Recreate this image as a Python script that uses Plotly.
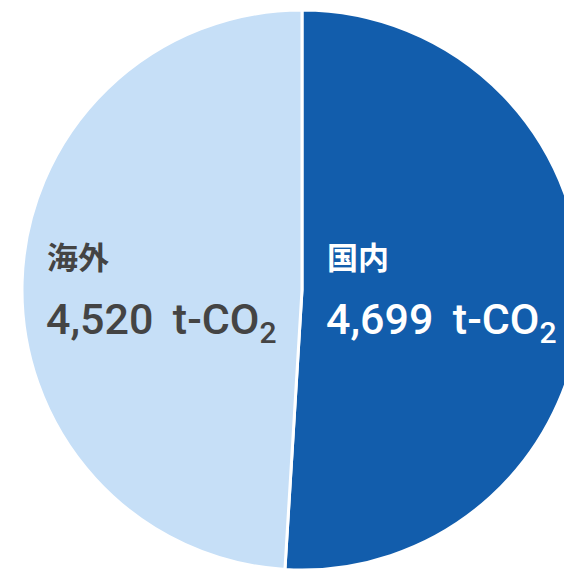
import plotly.graph_objects as go

labels = ["国内", "海外"]
values = [4699, 4520]
value_text = ["4,699", "4,520"]
colors = ["#125DAC", "#C6DFF7"]
text_colors = ["#FFFFFF", "#444444"]

W, H = 582, 570

fig = go.Figure(go.Pie(
    labels=labels,
    values=values,
    sort=False,
    direction="clockwise",
    rotation=0,
    textinfo="none",
    hoverinfo="label+value",
    marker=dict(colors=colors, line=dict(color="#FFFFFF", width=3)),
    domain=dict(x=[22 / W, 1], y=[0, 560 / H]),
    showlegend=False,
))

label_x = [327, 47]
for i in range(2):
    fig.add_annotation(
        x=(label_x[i] - 2) / W, y=1 - 255 / H, xref="paper", yref="paper",
        xanchor="left", yanchor="middle", showarrow=False,
        text=labels[i],
        font=dict(family="'Noto Sans CJK JP', sans-serif", size=31, color=text_colors[i], weight="bold"),
    )
    fig.add_annotation(
        x=(label_x[i] - 3) / W, y=1 - 322 / H, xref="paper", yref="paper",
        xanchor="left", yanchor="middle", showarrow=False,
        text=f"{value_text[i]}\u2009 t-CO<sub>2</sub>",
        font=dict(family="Roboto, sans-serif", size=43, color=text_colors[i], weight=500),
    )

fig.update_layout(
    width=W, height=H,
    margin=dict(l=0, r=0, t=0, b=0),
    paper_bgcolor="#FFFFFF",
    plot_bgcolor="#FFFFFF",
)

fig.write_html(
    "out.html",
    config={"displayModeBar": False},
    post_script="document.body.style.margin='0';document.body.style.overflow='hidden';",
)
